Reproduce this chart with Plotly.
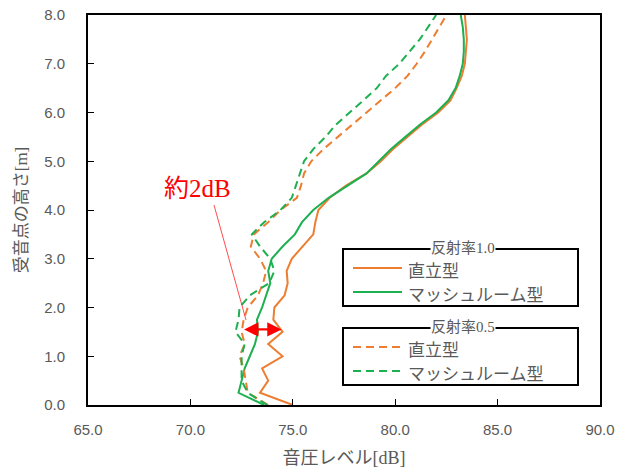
import plotly.graph_objects as go

heights = [i * 0.25 for i in range(33)]

straight_10 = [75.0, 73.4, 73.8, 73.5, 74.5, 73.8, 74.5, 74.05, 74.1, 74.6, 74.75, 74.7, 74.95,
               75.5, 76.0, 76.1, 76.25, 76.8, 77.6, 78.6, 79.3, 79.9, 80.6, 81.3, 82.1, 82.7,
               83.0, 83.25, 83.4, 83.45, 83.5, 83.45, 83.4]
mush_10 = [73.6, 72.35, 72.5, 72.65, 72.9, 73.15, 73.3, 73.25, 73.5, 73.7, 73.9, 73.8, 73.97,
           74.5, 75.1, 75.45, 76.0, 76.75, 77.7, 78.6, 79.2, 79.8, 80.5, 81.2, 82.0, 82.6,
           82.95, 83.15, 83.3, 83.35, 83.35, 83.3, 83.2]
straight_05 = [73.8, 72.8, 72.7, 72.6, 72.4, 72.65, 72.5, 72.6, 72.8, 73.3, 73.55, 73.7, 73.4,
               72.95, 73.1, 73.8, 74.4, 75.2, 75.4, 75.55, 75.9, 76.5, 77.2, 77.9, 78.6, 79.3,
               80.0, 80.6, 81.05, 81.45, 81.8, 82.15, 82.5]
mush_05 = [73.75, 72.8, 72.5, 72.5, 72.5, 72.65, 72.2, 72.35, 72.4, 72.9, 73.85, 74.1, 73.9,
           73.4, 73.0, 73.6, 74.4, 74.95, 75.15, 75.35, 75.55, 76.0, 76.6, 77.1, 77.8, 78.45,
           79.1, 79.55, 80.2, 80.7, 81.2, 81.6, 82.0]

x_ticks = [65, 70, 75, 80, 85, 90]
y_ticks = [0, 1, 2, 3, 4, 5, 6, 7, 8]

ORANGE = "#ED7D31"
GREEN = "#1DB050"
GRAY = "#595959"
JP = "Liberation Serif, Noto Sans CJK JP"

W, H = 630, 474
L, R, T, B = 88, 30, 15, 69
PW, PH = W - L - R, H - T - B


def px(xp):
    return (xp - L) / PW


def py(yp):
    return (H - B - yp) / PH


fig = go.Figure()
series = [
    (straight_10, ORANGE, "solid", "直立型 1.0"),
    (mush_10, GREEN, "solid", "マッシュルーム型 1.0"),
    (straight_05, ORANGE, "8px,5px", "直立型 0.5"),
    (mush_05, GREEN, "8px,5px", "マッシュルーム型 0.5"),
]
for xs, c, d, n in series:
    fig.add_trace(go.Scatter(x=xs, y=heights, mode="lines", name=n,
                             line=dict(color=c, width=2, dash=d), showlegend=False))

shapes = []
annotations = []

# legend boxes
for top, bot, title, dash, rows in [(249, 306, "反射率1.0", "solid", (269, 293)),
                                     (328, 385, "反射率0.5", "8px,5px", (348, 372))]:
    shapes.append(dict(type="rect", xref="paper", yref="paper",
                       x0=px(343), x1=px(578), y0=py(bot), y1=py(top),
                       line=dict(color="black", width=2), fillcolor="white", layer="above"))
    annotations.append(dict(xref="paper", yref="paper", x=px(463), y=py(top - 1),
                            text=title, showarrow=False, xanchor="center", yanchor="middle",
                            font=dict(family=JP, size=15, color=GRAY), bgcolor="white",
                            borderpad=0))
    for yy, c, label in [(rows[0], ORANGE, "直立型"), (rows[1], GREEN, "マッシュルーム型")]:
        shapes.append(dict(type="line", xref="paper", yref="paper",
                           x0=px(353), x1=px(402), y0=py(yy - 1), y1=py(yy - 1),
                           line=dict(color=c, width=2, dash=dash), layer="above"))
        annotations.append(dict(xref="paper", yref="paper", x=px(406), y=py(yy),
                                text=label, showarrow=False, xanchor="left", yanchor="middle",
                                font=dict(family="Noto Sans CJK JP", size=17, color=GRAY)))

# red pointer line and label
shapes.append(dict(type="line", xref="paper", yref="paper",
                   x0=px(214), y0=py(205), x1=px(246), y1=py(320),
                   line=dict(color="rgba(255,0,0,0.7)", width=1)))
annotations.append(dict(xref="paper", yref="paper", x=px(197), y=py(188),
                        text="約2dB", showarrow=False, xanchor="center", yanchor="middle",
                        font=dict(family=JP, size=25, color="#FF0000")))
# double headed arrow
annotations.append(dict(x=74.45, y=1.55, ax=72.55, ay=1.55, axref="x", ayref="y",
                        xref="x", yref="y", text="", showarrow=True,
                        arrowhead=2, arrowside="end+start", arrowsize=1.3,
                        arrowwidth=2.2, arrowcolor="#FF0000", standoff=0, startstandoff=0))

fig.update_layout(
    width=W, height=H,
    margin=dict(l=L, r=R, t=T, b=B, autoexpand=False),
    paper_bgcolor="white", plot_bgcolor="white",
    shapes=shapes, annotations=annotations,
    xaxis=dict(range=[65, 90], tickvals=x_ticks, ticktext=[f"{v:.1f}" for v in x_ticks],
               showgrid=False, zeroline=False, showline=True, linecolor="black", linewidth=2,
               mirror=True, ticks="inside", ticklen=6, tickcolor="black", tickwidth=1,
               ticklabelstandoff=10, automargin=False,
               tickfont=dict(family="Liberation Sans", size=15, color=GRAY),
               title=dict(text="音圧レベル[dB]", font=dict(family=JP, size=18, color=GRAY),
                          standoff=14)),
    yaxis=dict(range=[0, 8], tickvals=y_ticks, ticktext=[f"{v:.1f}" for v in y_ticks],
               showgrid=False, zeroline=False, showline=True, linecolor="black", linewidth=2,
               mirror=True, ticks="inside", ticklen=6, tickcolor="black", tickwidth=1,
               ticklabelstandoff=18, automargin=False,
               tickfont=dict(family="Liberation Sans", size=15, color=GRAY),
               title=dict(text="受音点の高さ[m]", font=dict(family=JP, size=17, color=GRAY),
                          standoff=12)),
)

fig.write_html("out.html")
